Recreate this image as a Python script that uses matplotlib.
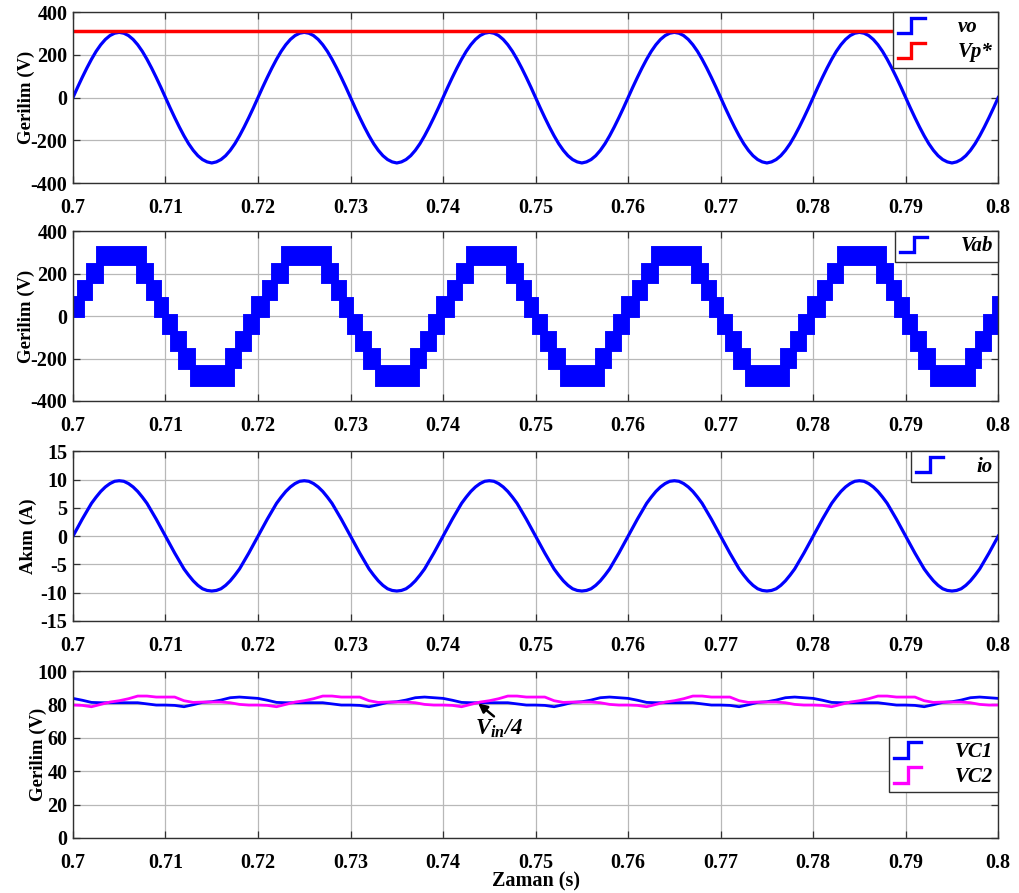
import numpy as np
import matplotlib
matplotlib.use('Agg')
import matplotlib.pyplot as plt
from matplotlib.legend_handler import HandlerLine2D
from matplotlib.lines import Line2D

plt.rcParams['font.family'] = ['Liberation Serif', 'DejaVu Serif']
plt.rcParams['font.weight'] = 'bold'
plt.rcParams['axes.unicode_minus'] = False
plt.rcParams['mathtext.fontset'] = 'custom'
plt.rcParams['mathtext.it'] = 'Liberation Serif:italic:bold'
plt.rcParams['mathtext.rm'] = 'Liberation Serif:bold'

# x axis
t_start = 0.7
t_end = 0.8
x_ticks = [0.7, 0.71, 0.72, 0.73, 0.74, 0.75, 0.76, 0.77, 0.78, 0.79, 0.8]
x_tick_labels = ['0.7', '0.71', '0.72', '0.73', '0.74', '0.75', '0.76', '0.77', '0.78', '0.79', '0.8']
period = 0.02
n_cycles = 5

# output voltage vo, one 50 Hz cycle read every 0.5 ms (V)
vo_cycle = [0, 48, 94, 138, 179, 216, 247, 272, 290, 301,
            305, 301, 290, 272, 247, 216, 179, 138, 94, 48,
            0, -48, -94, -138, -179, -216, -247, -272, -290, -301,
            -306, -301, -290, -272, -247, -216, -179, -138, -94, -48]
vp_ref = 311

# load current io, one cycle every 0.5 ms (A)
io_cycle = [0, 1.5, 3.0, 4.4, 5.8, 6.9, 7.9, 8.7, 9.3, 9.7,
            9.8, 9.7, 9.3, 8.7, 7.9, 6.9, 5.8, 4.4, 3.0, 1.5,
            0, -1.5, -3.0, -4.4, -5.8, -6.9, -7.9, -8.7, -9.3, -9.6,
            -9.7, -9.6, -9.3, -8.7, -7.9, -6.9, -5.8, -4.4, -3.0, -1.5]

# Vab switching band: upper and lower edges, times in ms inside one cycle
vab_up_t = [0, 0.6, 1.66, 2.74, 7.78, 8.5, 9.4, 10.2, 11.14, 12.1, 13.08, 16.6, 17.69, 18.6, 19.5]
vab_up_v = [85, 160, 240, 322, 240, 160, 80, 0, -80, -160, -240, -160, -80, 0, 85]
vab_lo_t = [0, 1.12, 1.91, 3.1, 7.06, 8.14, 8.97, 9.84, 10.67, 11.57, 12.83, 17.33, 18.05, 19.14]
vab_lo_v = [0, 80, 160, 245, 160, 80, 0, -80, -160, -245, -325, -240, -160, -80]

# capacitor voltages, one cycle every 1 ms (V)
vc1_cycle = [83.6, 82.5, 81.2, 81.0, 81.0, 81.0, 81.0, 81.0, 80.3, 79.6,
             79.6, 79.4, 78.6, 79.8, 81.2, 81.6, 82.6, 84.0, 84.4, 84.0]
vc2_cycle = [79.6, 79.4, 78.6, 80.0, 81.4, 82.2, 83.4, 85.0, 85.0, 84.4,
             84.4, 84.4, 82.2, 81.2, 81.4, 81.4, 81.4, 81.0, 80.0, 79.6]


class StepHandler(HandlerLine2D):
    # legend handle drawn as a small step, like the scope legend
    def create_artists(self, legend, orig_handle, xdescent, ydescent,
                       width, height, fontsize, trans):
        x0 = -xdescent
        y0 = -ydescent
        xs = [x0, x0 + width * 0.5, x0 + width * 0.5, x0 + width]
        ys = [y0 - height * 0.05, y0 - height * 0.05, y0 + height * 1.0, y0 + height * 1.0]
        line = Line2D(xs, ys, color=orig_handle.get_color(), lw=2.4,
                      solid_joinstyle='miter')
        line.set_transform(trans)
        return [line]


def add_legend(ax, handles, labels, anchor_y=1.0):
    leg = ax.legend(handles, labels, loc='upper right', bbox_to_anchor=(1.0, anchor_y),
                    borderaxespad=0, fancybox=False, framealpha=1, edgecolor='#303030',
                    handlelength=1.3, handletextpad=1.6, borderpad=0.25, labelspacing=0.25,
                    prop={'family': 'Liberation Serif', 'style': 'italic',
                          'weight': 'bold', 'size': 15},
                    handler_map={Line2D: StepHandler()})
    leg.get_frame().set_linewidth(1.0)
    leg.set_zorder(10)
    return leg


def style_axis(ax, yticks, ylabel, label_x):
    ax.set_xlim(t_start, t_end)
    ax.set_xticks(x_ticks)
    ax.set_xticklabels(x_tick_labels)
    ax.set_yticks(yticks)
    ax.set_ylim(yticks[0], yticks[-1])
    ax.grid(True, color='#b8b8b8', lw=0.9)
    ax.set_axisbelow(True)
    ax.tick_params(direction='in', top=True, right=True, length=5, width=0.9,
                   labelsize=14.5, pad=4, color='#303030')
    ax.tick_params(axis='x', pad=11)
    for s in ax.spines.values():
        s.set_color('#303030')
        s.set_linewidth(1.0)
    ax.set_ylabel(ylabel, fontsize=13.5, fontweight='bold')
    ax.yaxis.set_label_coords(label_x, 0.5)


fig = plt.figure(figsize=(10.19, 8.93), dpi=100)
left = 0.0716
width = 0.908
ax1 = fig.add_axes([left, 0.795, width, 0.1915])
ax2 = fig.add_axes([left, 0.551, width, 0.190])
ax3 = fig.add_axes([left, 0.3046, width, 0.190])
ax4 = fig.add_axes([left, 0.0616, width, 0.187])

# time bases
t_fast = t_start + np.arange(len(vo_cycle) * n_cycles + 1) * period / len(vo_cycle)
vo = np.append(np.tile(vo_cycle, n_cycles), vo_cycle[0])
io = np.append(np.tile(io_cycle, n_cycles), io_cycle[0])
t_slow = t_start + np.arange(len(vc1_cycle) * n_cycles + 1) * period / len(vc1_cycle)
vc1 = np.append(np.tile(vc1_cycle, n_cycles), vc1_cycle[0])
vc2 = np.append(np.tile(vc2_cycle, n_cycles), vc2_cycle[0])

# panel 1: vo and peak reference
l_vo, = ax1.plot(t_fast, vo, color='#0000ff', lw=2.3)
l_vp, = ax1.plot([t_start, t_end], [vp_ref, vp_ref], color='#ff0000', lw=2.5)
style_axis(ax1, [-400, -200, 0, 200, 400], 'Gerilim (V)', -0.041)
add_legend(ax1, [l_vo, l_vp], ['vo', 'Vp*'])

# panel 2: multilevel Vab band
up_t = np.concatenate([t_start + k * period + np.array(vab_up_t) / 1000 for k in range(n_cycles)])
up_v = np.tile(vab_up_v, n_cycles)
lo_t = np.concatenate([t_start + k * period + np.array(vab_lo_t) / 1000 for k in range(n_cycles)])
lo_v = np.tile(vab_lo_v, n_cycles)
edges = np.append(np.union1d(up_t, lo_t), t_end)
hi = up_v[np.searchsorted(up_t, edges[:-1], side='right') - 1]
lo = lo_v[np.searchsorted(lo_t, edges[:-1], side='right') - 1]
ax2.stairs(hi, edges, baseline=lo, fill=True, facecolor='#0000ff',
           edgecolor='#0000ff', lw=2.8)
l_vab = Line2D([], [], color='#0000ff')
style_axis(ax2, [-400, -200, 0, 200, 400], 'Gerilim (V)', -0.041)
add_legend(ax2, [l_vab], ['Vab'])

# panel 3: io
l_io, = ax3.plot(t_fast, io, color='#0000ff', lw=2.3)
style_axis(ax3, [-15, -10, -5, 0, 5, 10, 15], 'Akım (A)', -0.039)
add_legend(ax3, [l_io], ['io'])

# panel 4: capacitor voltages
l_vc1, = ax4.plot(t_slow, vc1, color='#0000ff', lw=2.0)
l_vc2, = ax4.plot(t_slow, vc2, color='#ff00ff', lw=2.0)
style_axis(ax4, [0, 20, 40, 60, 80, 100], 'Gerilim (V)', -0.028)
add_legend(ax4, [l_vc1, l_vc2], ['VC1', 'VC2'], anchor_y=0.607)
ax4.annotate('', xy=(0.7438, 80.6), xytext=(0.7455, 72.8),
             arrowprops=dict(arrowstyle='-|>', color='black', lw=1.8,
                             shrinkA=0, shrinkB=0, mutation_scale=13))
ax4.text(0.7461, 65.5, r'$V_{in}$/4', fontsize=16.5, style='italic', fontweight='bold',
         ha='center', va='center')
ax4.set_xlabel('Zaman (s)', fontsize=14.5, fontweight='bold')
ax4.xaxis.set_label_coords(0.5, -0.2)

fig.savefig('out.png', dpi=100)
